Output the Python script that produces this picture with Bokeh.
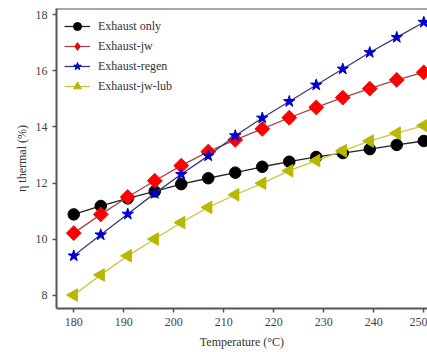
import numpy as np
from bokeh.plotting import figure
from bokeh.models import Range1d, Span, Legend, LegendItem, FixedTicker
from bokeh.embed import file_html
from bokeh.resources import INLINE

temperature = [180, 185.4, 190.8, 196.2, 201.5, 206.9, 212.3, 217.7, 223.1, 228.5, 233.8, 239.2, 244.6, 250]
exhaust_only = [10.88, 11.18, 11.45, 11.70, 11.96, 12.17, 12.37, 12.58, 12.76, 12.93, 13.07, 13.21, 13.36, 13.50]
exhaust_jw = [10.21, 10.88, 11.50, 12.08, 12.62, 13.12, 13.54, 13.93, 14.33, 14.70, 15.05, 15.37, 15.68, 15.95]
exhaust_regen = [9.40, 10.15, 10.89, 11.63, 12.31, 12.97, 13.69, 14.32, 14.91, 15.50, 16.07, 16.66, 17.20, 17.74]
exhaust_jw_lub = [8.00, 8.72, 9.40, 10.00, 10.59, 11.13, 11.58, 11.99, 12.44, 12.80, 13.15, 13.50, 13.78, 14.05]

x_ticks = [180, 190, 200, 210, 220, 230, 240, 250]
y_ticks = [8, 10, 12, 14, 16, 18]
series_names = ["Exhaust only", "Exhaust-jw", "Exhaust-regen", "Exhaust-jw-lub"]

FONT = "Liberation Serif"
Y_TOP = 18.23

p = figure(width=427, height=352, output_backend="svg", toolbar_location=None,
           x_range=Range1d(176.55, 250.75), y_range=Range1d(7.52, Y_TOP),
           min_border_left=56, min_border_right=0, min_border_top=8, min_border_bottom=44)
p.outline_line_color = None
p.grid.grid_line_color = None
p.background_fill_color = "white"
p.border_fill_color = "white"

p.add_layout(Span(location=Y_TOP, dimension="width", line_color="#555555", line_width=2))

for ax in (p.xaxis[0], p.yaxis[0]):
    ax.axis_line_color = "#555555"
    ax.axis_line_width = 2
    ax.major_tick_line_color = "#555555"
    ax.major_tick_line_width = 1.5
    ax.major_tick_in = 0
    ax.major_tick_out = 4
    ax.minor_tick_line_color = None
    ax.major_label_text_font = FONT
    ax.major_label_text_font_size = "12px"
    ax.major_label_text_color = "#444444"
    ax.axis_label_text_font = FONT
    ax.axis_label_text_font_size = "12px"
    ax.axis_label_text_font_style = "normal"
    ax.axis_label_text_color = "#333333"

p.xaxis[0].ticker = FixedTicker(ticks=x_ticks)
p.yaxis[0].ticker = FixedTicker(ticks=y_ticks)
p.xaxis[0].axis_label = "Temperature (°C)"
p.yaxis[0].axis_label = "η thermal (%)"
p.xaxis[0].major_label_standoff = 5
p.yaxis[0].major_label_standoff = 5
p.xaxis[0].axis_label_standoff = 6
p.yaxis[0].axis_label_standoff = 4

items = []
# Exhaust only
l1 = p.line(temperature, exhaust_only, line_color="#222222", line_width=1.3)
s1 = p.scatter(temperature, exhaust_only, marker="circle", size=11.5, fill_color="black", line_color="black")
items.append(LegendItem(label=series_names[0], renderers=[l1, s1]))
# Exhaust-jw
l2 = p.line(temperature, exhaust_jw, line_color="#a04848", line_width=1.3)
s2 = p.scatter(temperature, exhaust_jw, marker="square", size=10.5, angle=np.pi / 4,
               fill_color="#ff0000", line_color="#e81010")
# legend key glyph (a single off-chart NaN point) so the key shows a diamond
k2 = p.scatter(x=[np.nan], y=[np.nan], marker="diamond", size=16, fill_color="#ff0000", line_color="#e81010")
items.append(LegendItem(label=series_names[1], renderers=[l2, k2]))
# Exhaust-regen
l3 = p.line(temperature, exhaust_regen, line_color="#3a3a78", line_width=1.3)
s3 = p.scatter(temperature, exhaust_regen, marker="star", size=12, fill_color="#0000cc", line_color="#0000cc")
items.append(LegendItem(label=series_names[2], renderers=[l3, s3]))
# Exhaust-jw-lub
l4 = p.line(temperature, exhaust_jw_lub, line_color="#c8c840", line_width=1.3)
s4 = p.scatter(temperature, exhaust_jw_lub, marker="triangle", size=12.5, angle=np.pi / 2,
               fill_color="#b8b800", line_color="#b8b800")
items.append(LegendItem(label=series_names[3], renderers=[l4, s4]))

legend = Legend(items=items, location="top_left")
legend.border_line_color = None
legend.background_fill_alpha = 0
legend.margin = 8
legend.padding = 7
legend.spacing = 0
legend.label_height = 20
legend.glyph_height = 20
legend.glyph_width = 26
legend.label_standoff = 8
legend.label_text_font = FONT
legend.label_text_font_size = "12px"
legend.label_text_color = "#333333"
p.add_layout(legend)

open("out.html", "w").write(file_html(p, INLINE))
